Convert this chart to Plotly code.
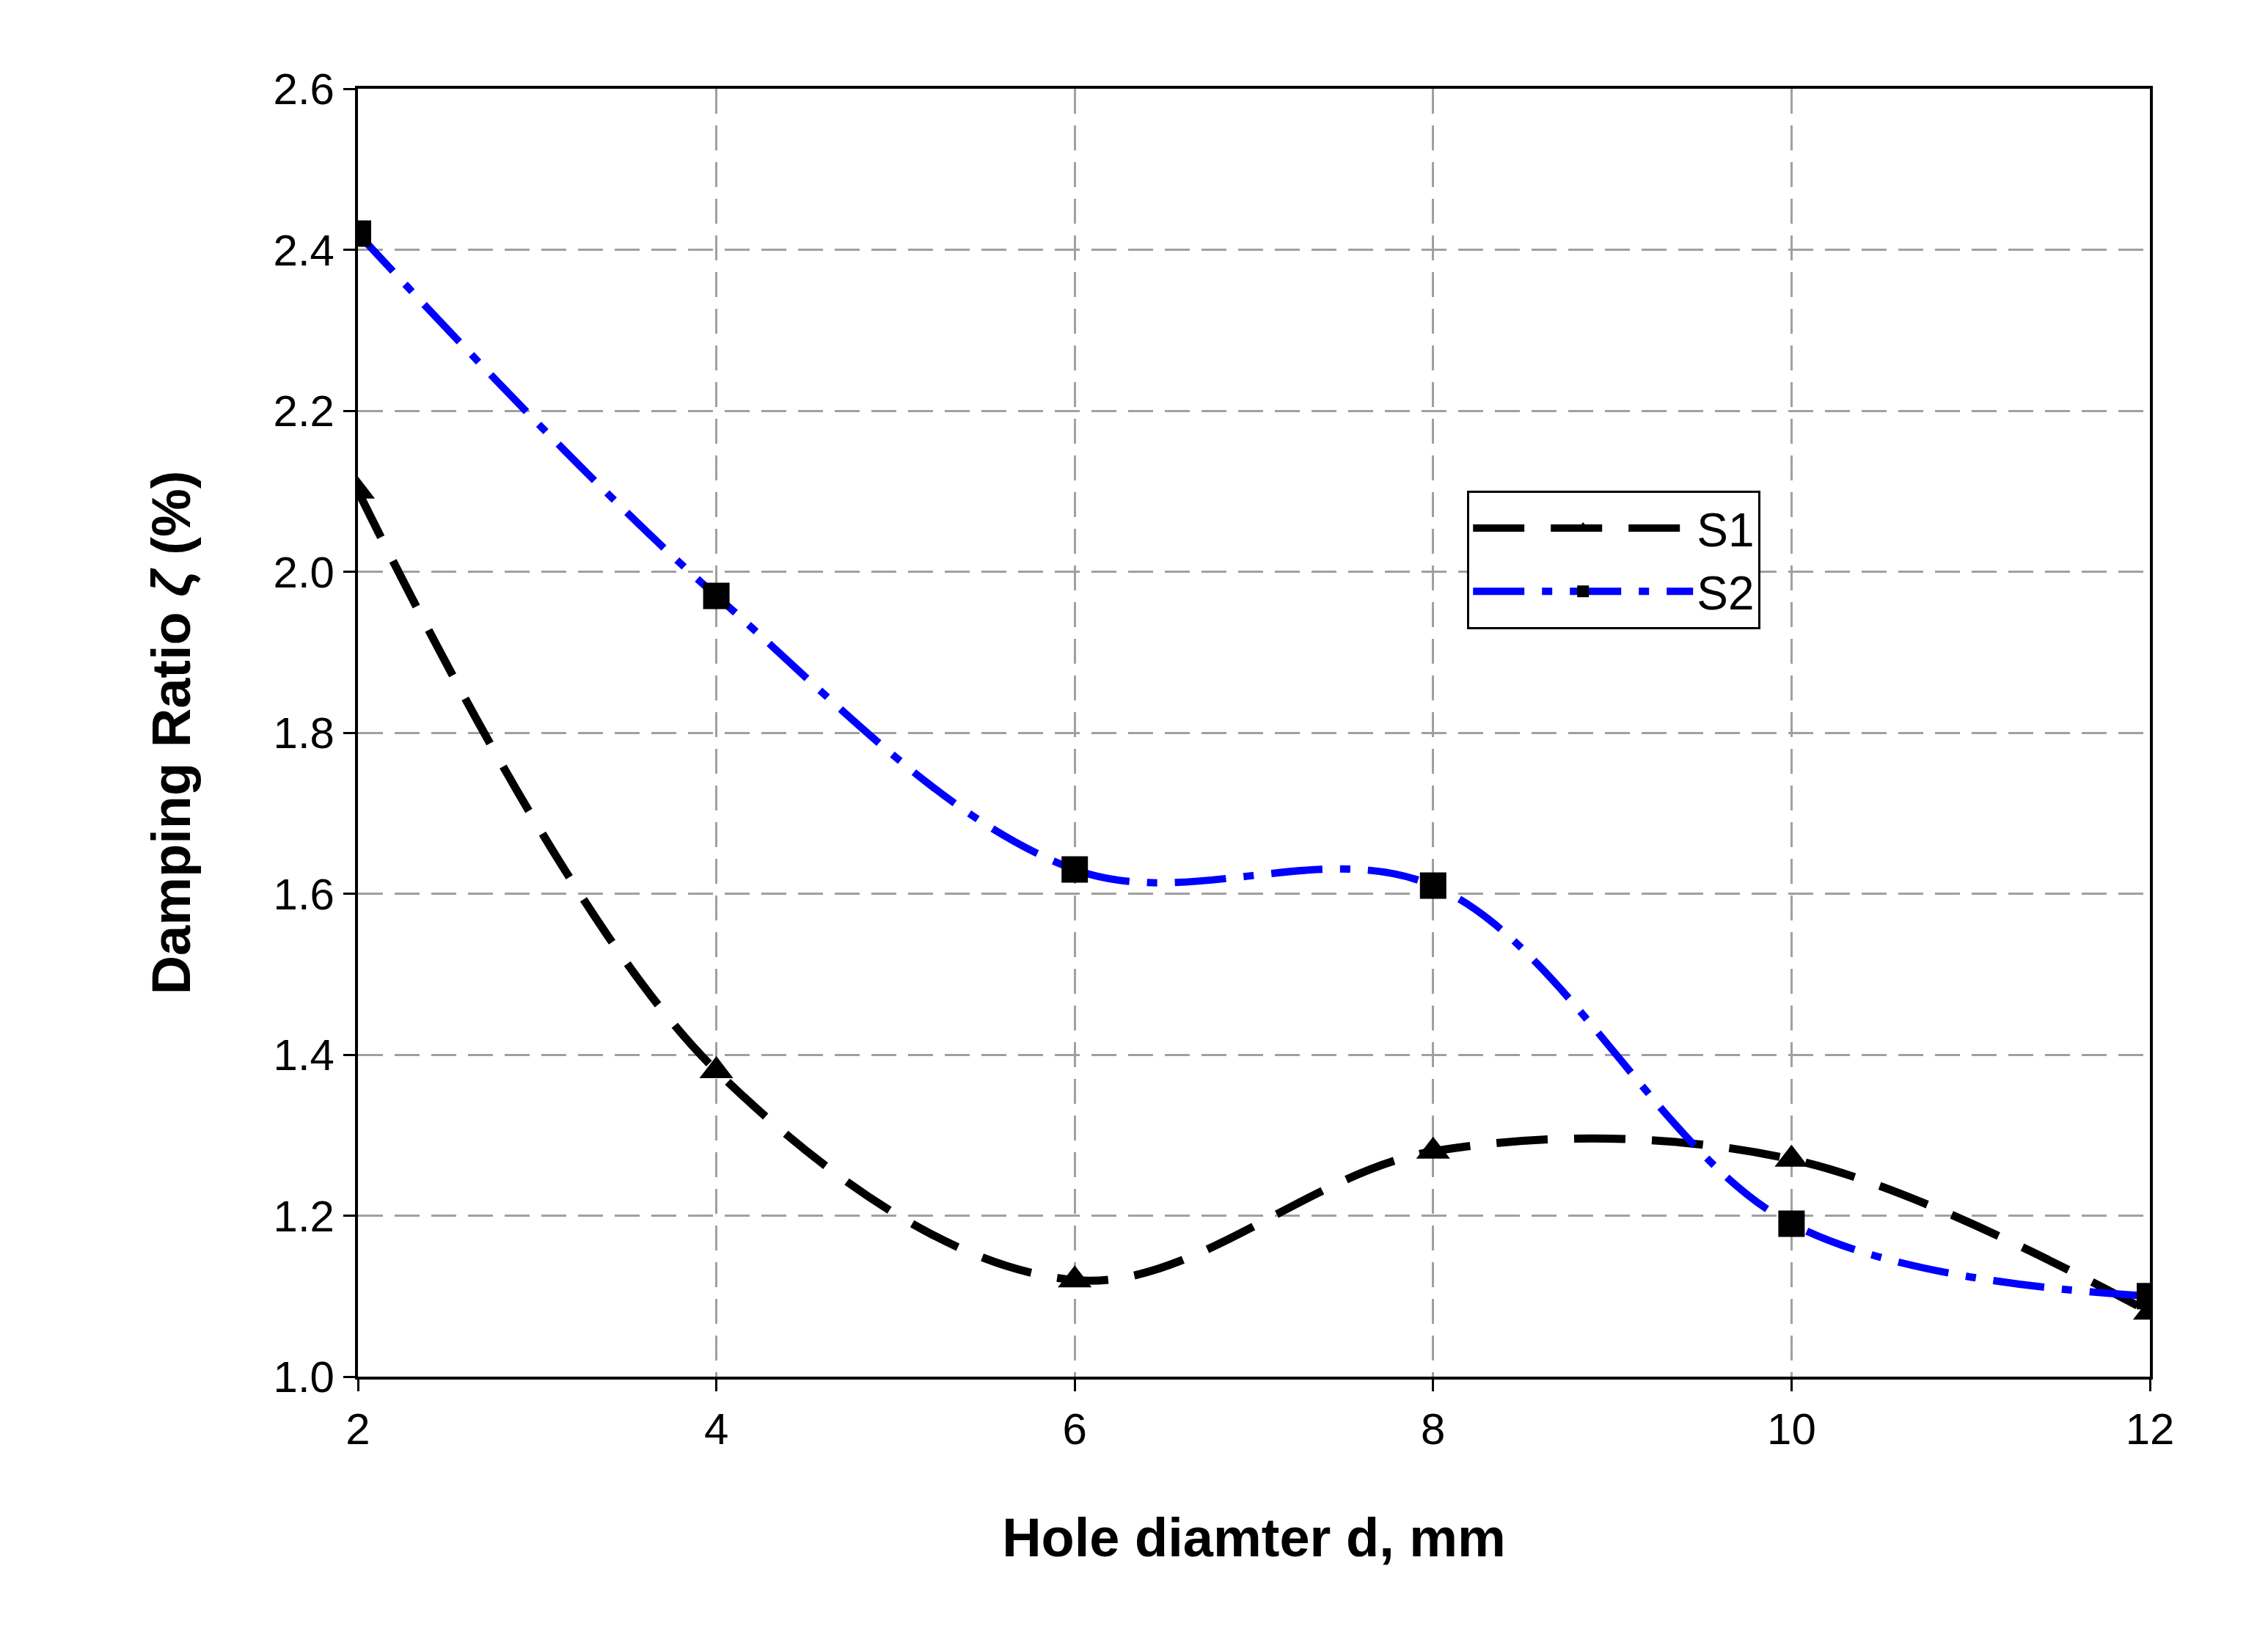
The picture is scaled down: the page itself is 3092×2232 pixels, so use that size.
import plotly.graph_objects as go

# ---- data ----
hole_d = [2, 4, 6, 8, 10, 12]
s1_damping = [2.10, 1.38, 1.12, 1.28, 1.27, 1.08]
s2_damping = [2.42, 1.97, 1.63, 1.61, 1.19, 1.10]
x_ticks = [2, 4, 6, 8, 10, 12]
y_ticks = [1.0, 1.2, 1.4, 1.6, 1.8, 2.0, 2.2, 2.4, 2.6]

fig = go.Figure()

fig.add_trace(go.Scatter(
    x=hole_d, y=s1_damping, name="S1", mode="lines+markers",
    line=dict(color="black", width=11, dash="70px,36px", shape="spline", smoothing=1.0),
    marker=dict(symbol="triangle-up", size=40, color="black"),
))
fig.add_trace(go.Scatter(
    x=hole_d, y=s2_damping, name="S2", mode="lines+markers",
    line=dict(color="#0000ff", width=10, dash="70px,24px,14px,24px", shape="spline", smoothing=1.0),
    marker=dict(symbol="square", size=36, color="black"),
))

axis_common = dict(
    showline=True, linecolor="black", linewidth=4, mirror=True,
    ticks="outside", ticklen=16, tickwidth=3, tickcolor="black",
    showgrid=True, gridcolor="#a0a0a0", gridwidth=3, griddash="34px,16px",
    zeroline=False,
    tickfont=dict(family="Liberation Sans, Arial", size=60, color="black"),
)

fig.update_xaxes(
    range=[2, 12], tickvals=x_ticks,
    title=dict(text="<b>Hole diamter d, mm</b>", standoff=90,
               font=dict(family="Liberation Sans, Arial", size=74, color="black")),
    **axis_common,
)
fig.update_yaxes(
    range=[1.0, 2.6], tickvals=y_ticks, tickformat=".1f",
    title=dict(text="<b>Damping Ratio <i>ζ</i> (%)</b>", standoff=90,
               font=dict(family="Liberation Sans, Arial", size=74, color="black")),
    **axis_common,
)

fig.update_layout(
    width=3092, height=2232,
    plot_bgcolor="white", paper_bgcolor="white",
    margin=dict(l=480, r=169, t=113, b=363),
    legend=dict(
        x=0.619, y=0.688, xanchor="left", yanchor="top",
        bgcolor="white", bordercolor="black", borderwidth=3,
        font=dict(family="Liberation Sans, Arial", size=64, color="black"),
        itemwidth=300, tracegroupgap=20,
    ),
)

fig.write_html("out.html")
